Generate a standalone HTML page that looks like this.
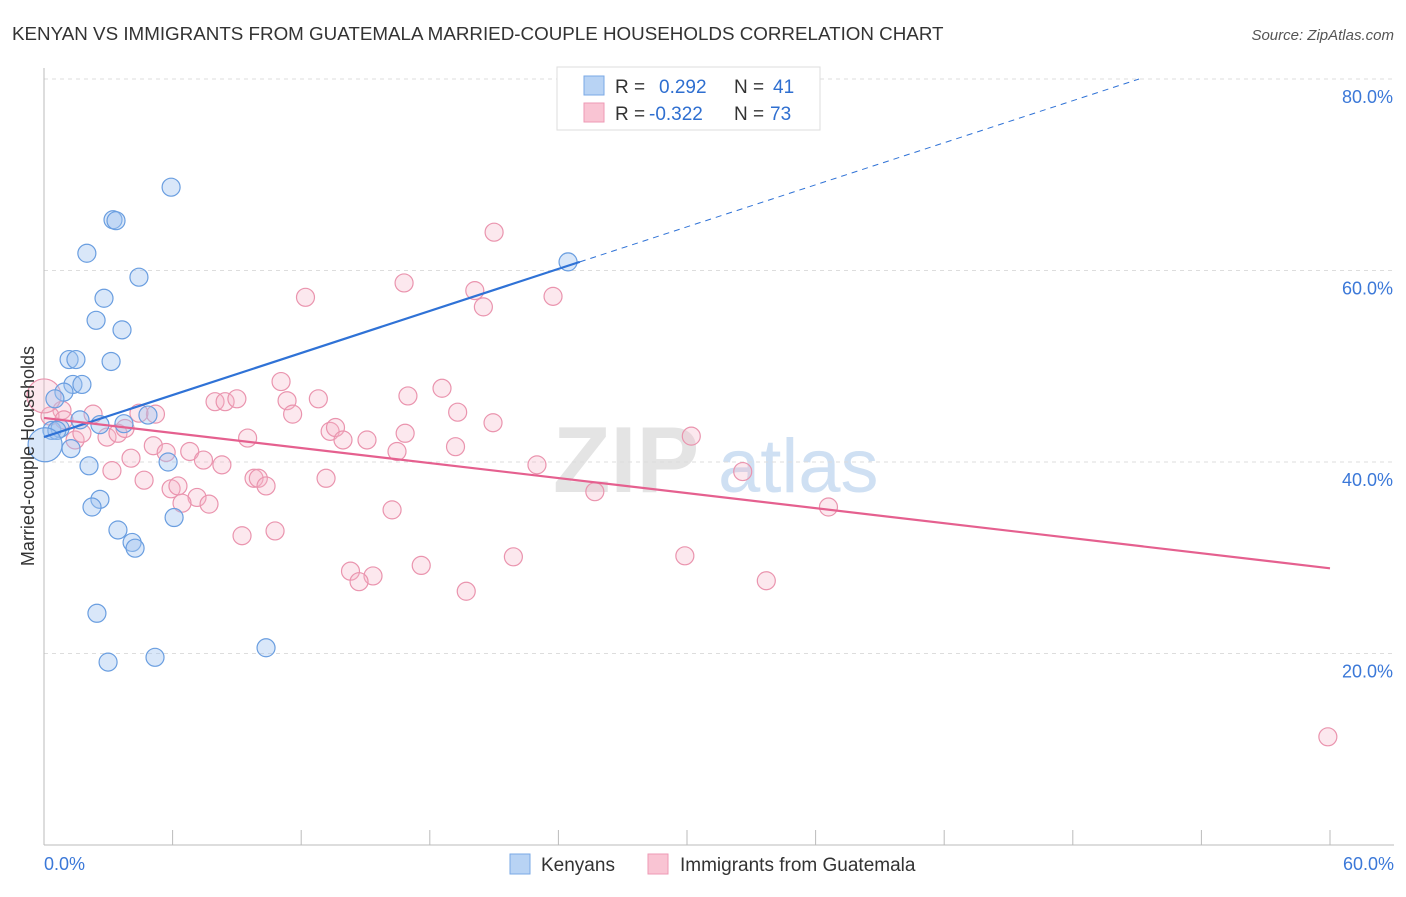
<!DOCTYPE html>
<html><head><meta charset="utf-8"><style>
body{margin:0;background:#fff;font-family:"Liberation Sans",sans-serif}
svg text{font-family:"Liberation Sans",sans-serif}
</style></head><body>
<svg width="1406" height="892" xmlns="http://www.w3.org/2000/svg">
<text x="12" y="40" font-size="18.8" fill="#333">KENYAN VS IMMIGRANTS FROM GUATEMALA MARRIED-COUPLE HOUSEHOLDS CORRELATION CHART</text>
<text x="1394" y="40" font-size="15" fill="#555" font-style="italic" text-anchor="end">Source: ZipAtlas.com</text>
<g><text x="553" y="492" font-size="94" fill="#e4e4e4" font-family="Liberation Serif" font-weight="bold">ZIP</text><text x="718" y="492" font-size="76" fill="#cfe0f3">atlas</text></g>
<g id="grid"></g><g id="axes"></g><g id="marks"></g>
<text transform="translate(34,456) rotate(-90)" font-size="18" fill="#333" text-anchor="middle">Married-couple Households</text>
<g>
<rect x="557" y="67" width="263" height="63" fill="#fff" stroke="#ddd"/>
<rect x="584" y="76" width="20" height="19" fill="#b8d3f4" stroke="#7aa8e6"/>
<rect x="584" y="103" width="20" height="19" fill="#f9c4d3" stroke="#ee9ab4"/>
<text x="615" y="93" font-size="19" fill="#333">R = <tspan fill="#2f6fd0" x="659">0.292</tspan><tspan fill="#333" x="734">N = </tspan><tspan fill="#2f6fd0" x="773">41</tspan></text>
<text x="615" y="120" font-size="19" fill="#333">R = <tspan fill="#2f6fd0" x="649">-0.322</tspan><tspan fill="#333" x="734">N = </tspan><tspan fill="#2f6fd0" x="770">73</tspan></text>
</g>
<g>
<rect x="510" y="854" width="20" height="20" fill="#b8d3f4" stroke="#7aa8e6"/>
<text x="541" y="871" font-size="19" fill="#333">Kenyans</text>
<rect x="648" y="854" width="20" height="20" fill="#f9c4d3" stroke="#ee9ab4"/>
<text x="680" y="871" font-size="19" fill="#333">Immigrants from Guatemala</text>
</g>
</svg>
<script>
const yTicks=[20,40,60,80];
const xTickLabels=["0.0%","60.0%"];
const blueX=[24.8,5.93,3.22,3.36,2.0,24.45,4.43,2.8,2.43,3.64,1.17,1.49,3.13,1.35,1.77,0.93,0.51,0.37,0.75,1.68,2.61,3.73,4.85,1.26,2.1,5.79,2.61,2.24,3.45,4.11,4.25,6.07,2.47,2.99,5.18,10.36,0.6];
const blueY=[76.7,68.7,65.3,65.2,61.8,60.9,59.3,57.1,54.8,53.8,50.7,50.7,50.5,48.1,48.1,47.3,46.6,43.3,43.5,44.4,43.9,44.0,44.9,41.4,39.6,40.0,36.1,35.3,32.9,31.6,31.0,34.2,24.2,19.1,19.6,20.6,43.3];
const pinkX=[59.9,21.0,16.8,12.2,20.1,20.5,23.75,11.06,18.57,16.98,7.98,8.45,9.0,11.34,12.8,11.6,19.3,5.2,4.43,2.29,0.84,20.95,13.35,13.6,13.95,15.07,16.85,19.2,16.47,9.5,30.2,6.8,5.1,5.7,7.44,8.3,4.06,3.17,23.0,32.6,9.8,10.0,10.36,13.16,4.67,5.93,6.25,7.14,6.44,7.7,25.7,36.6,16.24,10.78,9.24,21.9,29.9,17.6,14.3,15.35,14.7,33.7,19.7,1.45,1.77,2.94,3.45,3.78,0.28,0.93];
const pinkY=[11.3,64.0,58.7,57.2,57.9,56.2,57.3,48.4,47.7,46.9,46.3,46.3,46.6,46.4,46.6,45.0,45.2,45.0,45.1,45.0,45.4,44.1,43.2,43.6,42.3,42.3,43.0,41.6,41.1,42.5,42.7,41.1,41.7,41.0,40.2,39.7,40.4,39.1,39.7,39.0,38.3,38.3,37.5,38.3,38.1,37.2,37.5,36.3,35.7,35.6,36.9,35.3,35.0,32.8,32.3,30.1,30.2,29.2,28.6,28.1,27.5,27.6,26.5,42.3,43.0,42.6,43.0,43.5,44.8,44.4];
const bigBlue=[[0.05,41.8]];
const bigPink=[[0,46.9]];
const blueLine=[42.6,60.9]; // at x=0 and x=25
const pinkLine=[44.6,28.9]; // at x=0 and x=60
const X=v=>44+v/60*1286, Y=v=>845-v/80*766;
const NS="http://www.w3.org/2000/svg";
function mk(t,a,p){const e=document.createElementNS(NS,t);for(const k in a)e.setAttribute(k,a[k]);p.appendChild(e);return e;}
const grid=document.getElementById('grid'),axes=document.getElementById('axes'),marks=document.getElementById('marks');
yTicks.forEach(t=>{
 const g=mk('line',{x1:44,x2:1394,y1:Y(t),y2:Y(t),stroke:'#ddd','stroke-dasharray':'4,4'},grid);
 
 
 const l=mk('text',{x:1393,y:Y(t)+24,'font-size':18,fill:'#3b78d8','text-anchor':'end'},axes);
 l.textContent=t.toFixed(1)+'%';
 
 
});
const la=mk('line',{x1:44,x2:44,y1:68,y2:845,stroke:'#bbb'},axes);


const ba=mk('line',{x1:44,x2:1394,y1:845,y2:845,stroke:'#bbb'},axes);


for(let i=0;i<=10;i++){const t=mk('line',{x1:X(i*6),x2:X(i*6),y1:830,y2:845,stroke:'#bbb'},axes);
 
 }
const x0=mk('text',{x:44,y:870,'font-size':18,fill:'#3b78d8'},axes);x0.textContent=xTickLabels[0];


const x1=mk('text',{x:1394,y:870,'font-size':18,fill:'#3b78d8','text-anchor':'end'},axes);x1.textContent=xTickLabels[1];


function dot(x,y,r,cls){const c=mk('circle',{cx:X(x),cy:Y(y),r:r,fill:cls=='b'?'rgba(160,196,240,0.4)':'rgba(246,178,198,0.3)',stroke:cls=='b'?'#6a9ee0':'#ea94ae','stroke-width':1.2},marks);
 
 }
pinkX.forEach((x,i)=>dot(x,pinkY[i],9,'p'));
bigPink.forEach(p=>dot(p[0],p[1],17,'p'));
blueX.forEach((x,i)=>dot(x,blueY[i],9,'b'));
bigBlue.forEach(p=>dot(p[0],p[1],17,'b'));
const bs=(blueLine[1]-blueLine[0])/25;
const bl=mk('line',{x1:X(0),y1:Y(blueLine[0]),x2:X(25),y2:Y(blueLine[1]),stroke:'#2f72d6','stroke-width':2.2},marks);


const xe=(80-blueLine[0])/bs;
const bd=mk('line',{x1:X(25),y1:Y(blueLine[1]),x2:X(xe),y2:Y(80),stroke:'#2f72d6','stroke-width':1,'stroke-dasharray':'6,5'},marks);


const pl=mk('line',{x1:X(0),y1:Y(pinkLine[0]),x2:X(60),y2:Y(pinkLine[1]),stroke:'#e5608f','stroke-width':2.2},marks);


</script>
</body></html>
